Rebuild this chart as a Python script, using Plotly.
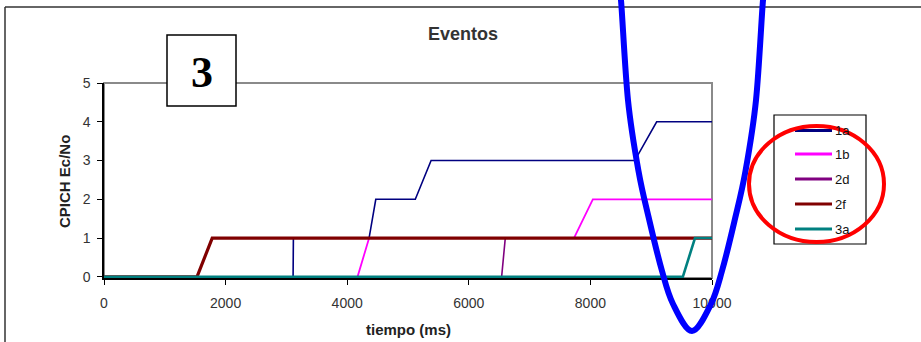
import plotly.graph_objects as go

# Series data (tiempo in ms, CPICH Ec/No event level)
series_names = ["1a", "1b", "2d", "2f", "3a"]
t_1a = [0, 3110, 3115, 4360, 4470, 5120, 5380, 8730, 9090, 10000]
v_1a = [0, 0, 1, 1, 2, 2, 3, 3, 4, 4]
t_1b = [0, 4170, 4360, 7730, 8040, 10000]
v_1b = [0, 0, 1, 1, 2, 2]
t_2d = [0, 6540, 6600, 10000]
v_2d = [0, 0, 1, 1]
t_2f = [0, 1530, 1780, 10000]
v_2f = [0, 0, 1, 1]
t_3a = [0, 9520, 9720, 10000]
v_3a = [0, 0, 1, 1]
x_ticks = [0, 2000, 4000, 6000, 8000, 10000]
y_ticks = [0, 1, 2, 3, 4, 5]

series_t = [t_1a, t_1b, t_2d, t_2f, t_3a]
series_v = [v_1a, v_1b, v_2d, v_2f, v_3a]
colors = ["#000080", "#FF00FF", "#800080", "#800000", "#008080"]
widths = [1.6, 1.8, 1.6, 3.2, 2.6]

W, H = 921, 342
L, R, T, B = 104, 712, 83, 278   # plot area in pixels
FONT = "Liberation Sans, Arial, sans-serif"


def px(x):
    # pixel -> paper x
    return (x - L) / (R - L)


def py(y):
    # pixel -> paper y
    return (B - y) / (B - T)


def smooth_path(pts):
    # Catmull-Rom through the points, written as cubic beziers
    pts = [(px(a), py(b)) for a, b in pts]
    d = "M%.4f,%.4f" % pts[0]
    for i in range(len(pts) - 1):
        p0 = pts[i - 1] if i > 0 else pts[i]
        p1, p2 = pts[i], pts[i + 1]
        p3 = pts[i + 2] if i + 2 < len(pts) else p2
        c1 = (p1[0] + (p2[0] - p0[0]) / 6, p1[1] + (p2[1] - p0[1]) / 6)
        c2 = (p2[0] - (p3[0] - p1[0]) / 6, p2[1] - (p3[1] - p1[1]) / 6)
        d += " C%.4f,%.4f %.4f,%.4f %.4f,%.4f" % (c1 + c2 + p2)
    return d


fig = go.Figure()
for name, t, v, c, w in zip(series_names, series_t, series_v, colors, widths):
    fig.add_trace(go.Scatter(x=t, y=v, name=name, mode="lines",
                             line=dict(color=c, width=w), showlegend=False))

shapes = []
# gray frame of the plot area (Excel style)
shapes.append(dict(type="rect", xref="paper", yref="paper", x0=0, x1=1, y0=0, y1=1,
                   line=dict(color="#8a8a8a", width=2), layer="below"))
# outer chart border (top and left)
shapes.append(dict(type="line", xref="paper", yref="paper", x0=px(5), x1=px(W + 5),
                   y0=py(7), y1=py(7), line=dict(color="#333333", width=1.5)))
shapes.append(dict(type="line", xref="paper", yref="paper", x0=px(5), x1=px(5),
                   y0=py(7), y1=py(H + 5), line=dict(color="#333333", width=1.5)))
# box with the "3"
shapes.append(dict(type="rect", xref="paper", yref="paper", x0=px(167), x1=px(236),
                   y0=py(106), y1=py(35), fillcolor="white",
                   line=dict(color="black", width=1.5), layer="above"))

# legend drawn by hand
shapes.append(dict(type="rect", xref="paper", yref="paper", x0=px(774), x1=px(866),
                   y0=py(244), y1=py(115), fillcolor="white",
                   line=dict(color="black", width=1.2)))
annotations = []
leg_y = [130.5, 154, 179, 204, 229]
for name, c, yy in zip(series_names, colors, leg_y):
    shapes.append(dict(type="line", xref="paper", yref="paper", x0=px(795), x1=px(832),
                       y0=py(yy), y1=py(yy), line=dict(color=c, width=3)))
    annotations.append(dict(text=name, xref="paper", yref="paper", x=px(833), y=py(yy),
                            xanchor="left", yanchor="middle", showarrow=False,
                            font=dict(family=FONT, size=13, color="#111")))

# hand-drawn blue U
half = [(-6, 73), (0, 71), (100, 64), (171, 53.5), (221, 42.5), (271, 30), (304, 19), (331, 0)]
cx = 692
curve = [(cx - h, y) for y, h in half] + [(cx + h, y) for y, h in reversed(half[:-1])]
shapes.append(dict(type="path", xref="paper", yref="paper", path=smooth_path(curve),
                   line=dict(color="#0000FF", width=6), layer="above"))
# red ellipse around the legend
shapes.append(dict(type="circle", xref="paper", yref="paper", x0=px(749), x1=px(884),
                   y0=py(242), y1=py(126), line=dict(color="#FF0000", width=4),
                   layer="above"))

annotations.append(dict(text="<b>3</b>", xref="paper", yref="paper", x=px(201.5), y=py(72),
                        xanchor="center", yanchor="middle", showarrow=False,
                        font=dict(family="Liberation Serif, Times New Roman, serif",
                                  size=44, color="black")))
annotations.append(dict(text="<b>tiempo (ms)</b>", xref="paper", yref="paper", x=px(408),
                        y=py(329), xanchor="center", yanchor="middle", showarrow=False,
                        font=dict(family=FONT, size=15, color="#222")))
annotations.append(dict(text="<b>CPICH Ec/No</b>", xref="paper", yref="paper", x=px(64),
                        y=py(182), xanchor="center", yanchor="middle", showarrow=False,
                        textangle=-90, font=dict(family=FONT, size=15, color="#222")))

fig.update_layout(
    width=W, height=H,
    margin=dict(l=L, r=W - R, t=T, b=H - B),
    paper_bgcolor="white", plot_bgcolor="white",
    title=dict(text="<b>Eventos</b>", x=463 / W, y=1 - 34 / H, xanchor="center",
               yanchor="middle", font=dict(family=FONT, size=18, color="#333")),
    shapes=shapes, annotations=annotations,
    showlegend=False,
)
fig.update_xaxes(range=[0, 10000], tickvals=x_ticks, tickformat="d", ticks="outside",
                 ticklen=5, tickcolor="black", showline=True, linecolor="black",
                 linewidth=1.5, showgrid=False, zeroline=False, ticklabelstandoff=6,
                 tickfont=dict(family=FONT, size=14, color="#333"))
fig.update_yaxes(range=[-0.03, 5], tickvals=y_ticks, ticks="outside", ticklen=5,
                 tickcolor="black", showline=True, linecolor="black", linewidth=1.5,
                 showgrid=False, zeroline=False, ticklabelstandoff=4,
                 tickfont=dict(family=FONT, size=14, color="#333"))

# drop the default page margin so the chart sits at the window origin
fig.write_html("out.html", config={"displayModeBar": False},
               post_script="document.body.style.margin='0';")
